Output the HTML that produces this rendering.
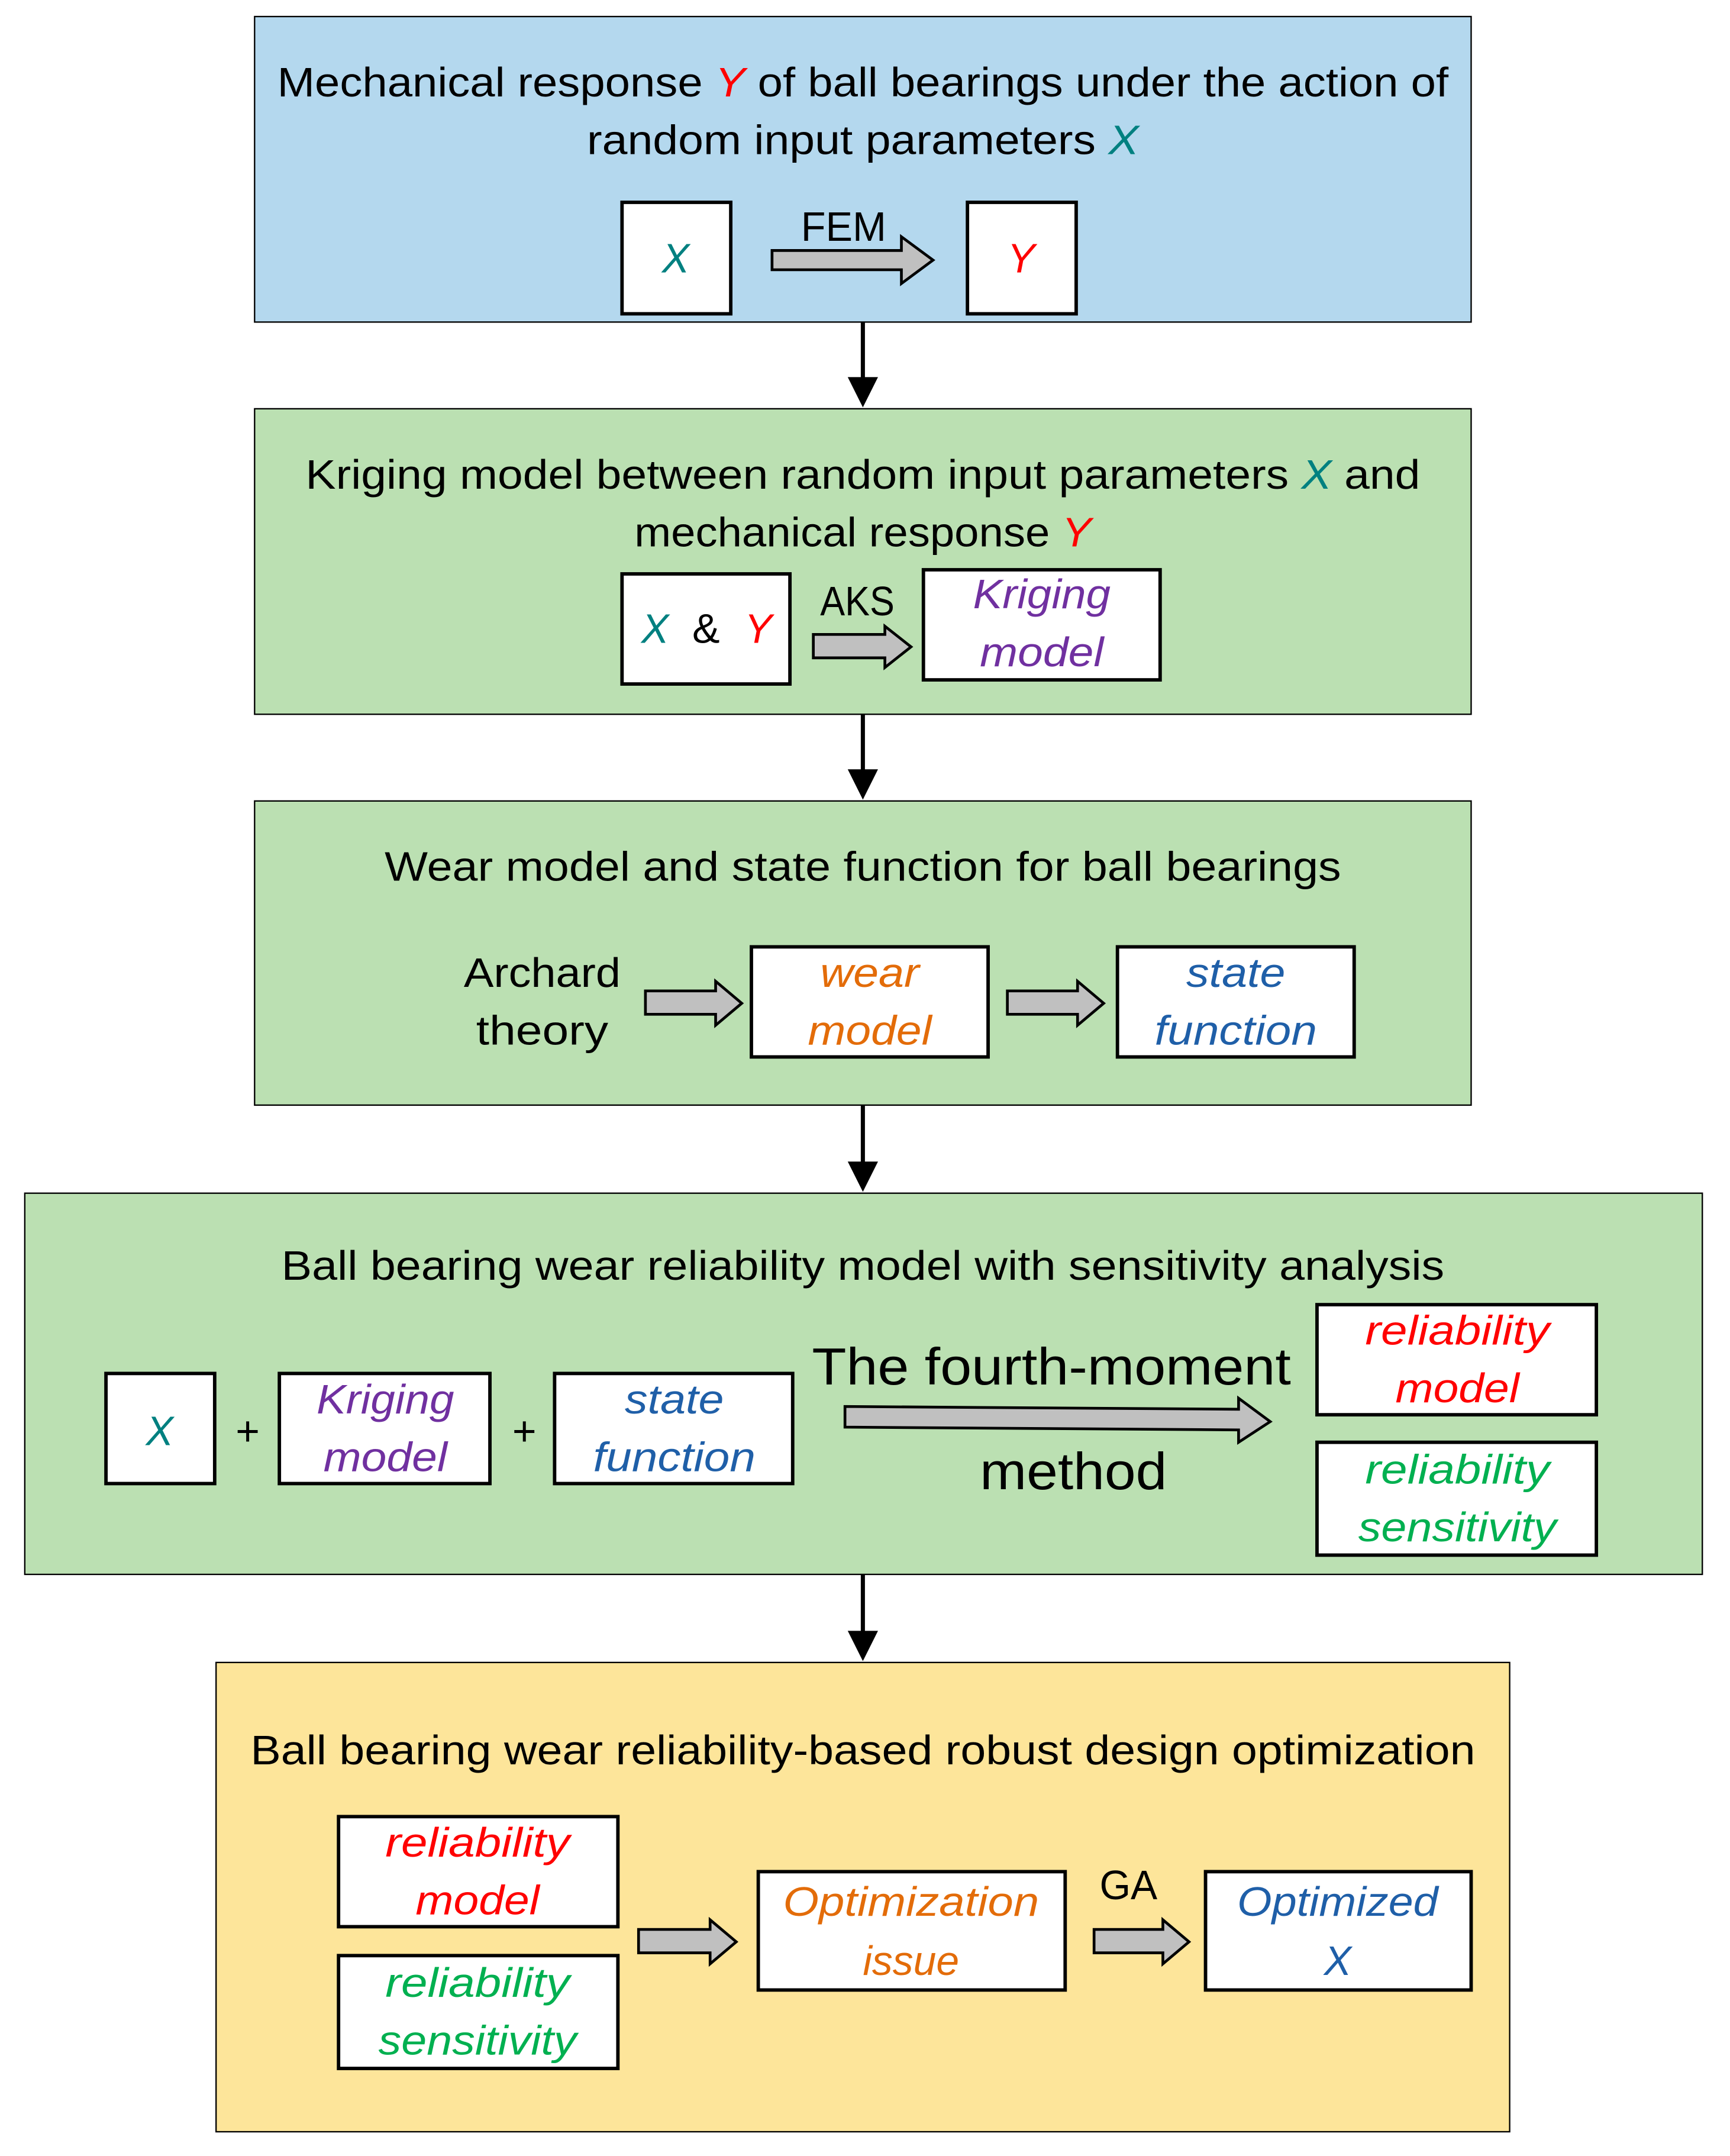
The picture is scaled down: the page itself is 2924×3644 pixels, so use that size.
<!DOCTYPE html>
<html><head><meta charset="utf-8"><style>html,body{margin:0;padding:0;background:#fff}svg{display:block}</style></head><body>
<svg xmlns="http://www.w3.org/2000/svg" width="2924" height="3644" viewBox="0 0 1257.1 1566.6" font-family="Liberation Sans, sans-serif">
<defs>
<marker id="ah" markerWidth="10" markerHeight="10" refX="5" refY="9" orient="auto" markerUnits="userSpaceOnUse"></marker>
</defs>
<g stroke="#000" stroke-width="1">
<rect x="185" y="12" width="884" height="222" fill="#b4d8ee"/>
<rect x="185" y="297" width="884" height="222" fill="#bbe0b2"/>
<rect x="185" y="582" width="884" height="221" fill="#bbe0b2"/>
<rect x="18" y="867" width="1219" height="277" fill="#bbe0b2"/>
<rect x="157" y="1208" width="940" height="341" fill="#fde59a"/>
</g>
<!-- connectors -->
<g stroke="#000" stroke-width="3">
<line x1="627" y1="234" x2="627" y2="278"/>
<line x1="627" y1="519" x2="627" y2="563"/>
<line x1="627" y1="803" x2="627" y2="848"/>
<line x1="627" y1="1144" x2="627" y2="1189"/>
</g>
<g fill="#000">
<polygon points="616,274 638,274 627,296"/>
<polygon points="616,559 638,559 627,581"/>
<polygon points="616,844 638,844 627,866"/>
<polygon points="616,1185 638,1185 627,1207"/>
</g>
<!-- white boxes -->
<g fill="#fff" stroke="#000" stroke-width="2.5">
<rect x="452" y="147" width="79" height="81"/>
<rect x="703" y="147" width="79" height="81"/>
<rect x="452" y="417" width="122" height="80"/>
<rect x="671" y="414" width="172" height="80"/>
<rect x="546" y="688" width="172" height="80"/>
<rect x="812" y="688" width="172" height="80"/>
<rect x="77" y="998" width="79" height="80"/>
<rect x="203" y="998" width="153" height="80"/>
<rect x="403" y="998" width="173" height="80"/>
<rect x="957" y="948" width="203" height="80"/>
<rect x="957" y="1048" width="203" height="82"/>
<rect x="246" y="1320" width="203" height="80"/>
<rect x="246" y="1421" width="203" height="82"/>
<rect x="551" y="1360" width="223" height="86"/>
<rect x="876" y="1360" width="193" height="86"/>
</g>
<!-- block arrows -->
<g fill="#c0c0c0" stroke="#000" stroke-width="2">
<polygon points="561,182 655,182 655,172 678,189 655,206 655,196 561,196"/>
<polygon points="591,461 643,461 643,455 662,470 643,485 643,478 591,478"/>
<polygon points="469,720 520,720 520,713 539,729 520,745 520,737 469,737"/>
<polygon points="732,720 783,720 783,713 802,729 783,745 783,737 732,737"/>
<polygon points="614,1022 900,1024 900,1016 923,1033 900,1048 900,1039 614,1037"/>
<polygon points="464,1402 516,1402 516,1395 535,1411 516,1427 516,1419 464,1419"/>
<polygon points="795,1402 845,1402 845,1395 864,1411 845,1427 845,1419 795,1419"/>
</g>
<g font-size="30" fill="#000" text-anchor="middle">
<text x="627" y="70" textLength="851" lengthAdjust="spacingAndGlyphs">Mechanical response <tspan fill="#ff0000" font-style="italic">Y</tspan> of ball bearings under the action of</text>
<text x="627" y="112" textLength="401" lengthAdjust="spacingAndGlyphs">random input parameters <tspan fill="#008080" font-style="italic">X</tspan></text>
<text x="491" y="198" fill="#008080" font-style="italic">X</text>
<text x="613" y="175" textLength="62" lengthAdjust="spacingAndGlyphs">FEM</text>
<text x="742" y="198" fill="#ff0000" font-style="italic">Y</text>

<text x="627" y="355" textLength="810" lengthAdjust="spacingAndGlyphs">Kriging model between random input parameters <tspan fill="#008080" font-style="italic">X</tspan> and</text>
<text x="627" y="397" textLength="332" lengthAdjust="spacingAndGlyphs">mechanical response <tspan fill="#ff0000" font-style="italic">Y</tspan></text>
<text x="476" y="467" fill="#008080" font-style="italic">X</text>
<text x="513" y="467">&amp;</text>
<text x="551" y="467" fill="#ff0000" font-style="italic">Y</text>
<text x="623" y="447" textLength="54" lengthAdjust="spacingAndGlyphs">AKS</text>
<g fill="#7030a0" font-style="italic">
<text x="757" y="442" textLength="100" lengthAdjust="spacingAndGlyphs">Kriging</text>
<text x="757" y="484" textLength="90" lengthAdjust="spacingAndGlyphs">model</text>
</g>

<text x="627" y="640" textLength="695" lengthAdjust="spacingAndGlyphs">Wear model and state function for ball bearings</text>
<text x="394" y="717" textLength="114" lengthAdjust="spacingAndGlyphs">Archard</text>
<text x="394" y="759" textLength="96" lengthAdjust="spacingAndGlyphs">theory</text>
<g fill="#e36c09" font-style="italic">
<text x="632" y="717" textLength="72" lengthAdjust="spacingAndGlyphs">wear</text>
<text x="632" y="759" textLength="90" lengthAdjust="spacingAndGlyphs">model</text>
</g>
<g fill="#1f5fa8" font-style="italic">
<text x="898" y="717" textLength="72" lengthAdjust="spacingAndGlyphs">state</text>
<text x="898" y="759" textLength="118" lengthAdjust="spacingAndGlyphs">function</text>
</g>

<text x="627" y="930" textLength="845" lengthAdjust="spacingAndGlyphs">Ball bearing wear reliability model with sensitivity analysis</text>
<text x="116" y="1050" fill="#008080" font-style="italic">X</text>
<text x="180" y="1050">+</text>
<text x="381" y="1050">+</text>
<g fill="#7030a0" font-style="italic">
<text x="280" y="1027" textLength="100" lengthAdjust="spacingAndGlyphs">Kriging</text>
<text x="280" y="1069" textLength="90" lengthAdjust="spacingAndGlyphs">model</text>
</g>
<g fill="#1f5fa8" font-style="italic">
<text x="490" y="1027" textLength="72" lengthAdjust="spacingAndGlyphs">state</text>
<text x="490" y="1069" textLength="118" lengthAdjust="spacingAndGlyphs">function</text>
</g>
<text x="764" y="1006" font-size="38" textLength="348" lengthAdjust="spacingAndGlyphs">The fourth-moment</text>
<text x="780" y="1082" font-size="38" textLength="136" lengthAdjust="spacingAndGlyphs">method</text>
<g fill="#ff0000" font-style="italic">
<text x="1059" y="977" textLength="134" lengthAdjust="spacingAndGlyphs">reliability</text>
<text x="1059" y="1019" textLength="90" lengthAdjust="spacingAndGlyphs">model</text>
</g>
<g fill="#00b050" font-style="italic">
<text x="1059" y="1078" textLength="134" lengthAdjust="spacingAndGlyphs">reliability</text>
<text x="1059" y="1120" textLength="144" lengthAdjust="spacingAndGlyphs">sensitivity</text>
</g>

<text x="627" y="1282" textLength="890" lengthAdjust="spacingAndGlyphs">Ball bearing wear reliability-based robust design optimization</text>
<g fill="#ff0000" font-style="italic">
<text x="347" y="1349" textLength="134" lengthAdjust="spacingAndGlyphs">reliability</text>
<text x="347" y="1391" textLength="90" lengthAdjust="spacingAndGlyphs">model</text>
</g>
<g fill="#00b050" font-style="italic">
<text x="347" y="1451" textLength="134" lengthAdjust="spacingAndGlyphs">reliability</text>
<text x="347" y="1493" textLength="144" lengthAdjust="spacingAndGlyphs">sensitivity</text>
</g>
<g fill="#e36c09" font-style="italic">
<text x="662" y="1392" textLength="186" lengthAdjust="spacingAndGlyphs">Optimization</text>
<text x="662" y="1435" textLength="70" lengthAdjust="spacingAndGlyphs">issue</text>
</g>
<text x="820" y="1380" textLength="42" lengthAdjust="spacingAndGlyphs">GA</text>
<g fill="#1f5fa8" font-style="italic">
<text x="972" y="1392" textLength="146" lengthAdjust="spacingAndGlyphs">Optimized</text>
<text x="972" y="1435">X</text>
</g>
</g>
</svg>
</body></html>
